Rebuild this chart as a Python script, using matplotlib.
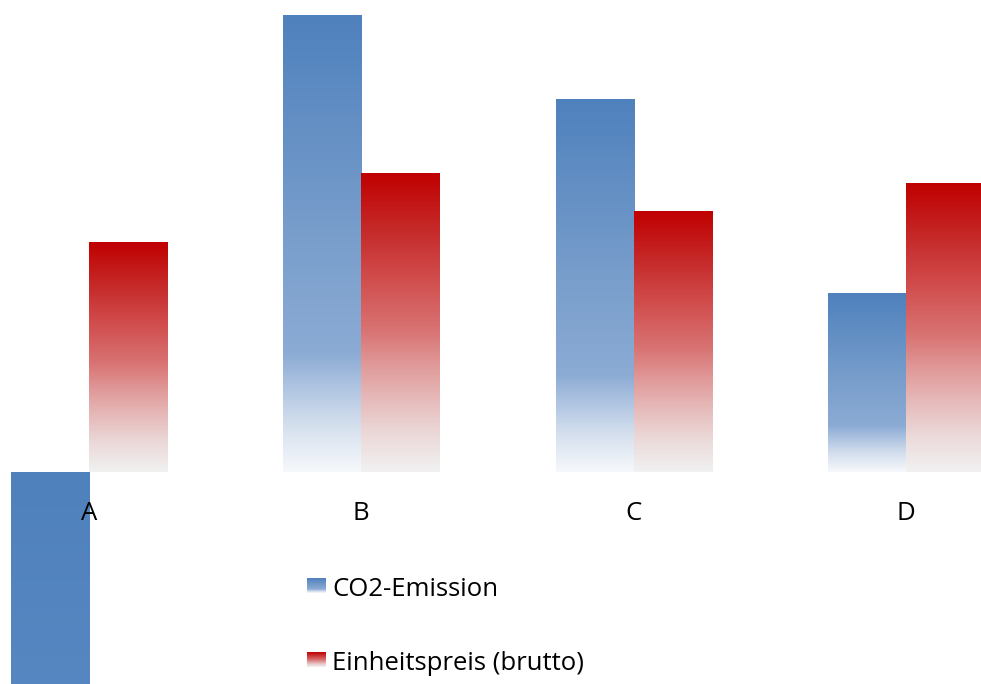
import numpy as np
import matplotlib.pyplot as plt
from matplotlib.colors import LinearSegmentedColormap

categories = ["A", "B", "C", "D"]
co2 = [-25.0, 45.7, 37.3, 17.9]
preis = [23.0, 29.9, 26.1, 28.9]
series_names = ["CO2-Emission", "Einheitspreis (brutto)"]

plt.rcParams['font.family'] = ['Open Sans', 'DejaVu Sans']

# Farbverlaeufe von oben (0) nach unten (1)
blue_cmap = LinearSegmentedColormap.from_list("blue", [
    (0.0, "#4F81BD"), (0.5, "#7A9FCC"), (0.74, "#8BABD4"),
    (0.8, "#A8BFDF"), (0.9, "#D5E0EE"), (1.0, "#F6F8FB")])
blue_neg_cmap = LinearSegmentedColormap.from_list("blueneg", ["#4F81BD", "#5888C2"])
red_cmap = LinearSegmentedColormap.from_list("red", [
    (0.0, "#C00000"), (0.2, "#C62C2C"), (0.33, "#D04848"), (0.53, "#D97474"),
    (0.64, "#E09898"), (0.75, "#E6B8B8"), (0.87, "#EBD8D8"), (1.0, "#F1F1F1")])

fig = plt.figure(figsize=(9.81, 6.84), dpi=100)
ax = fig.add_axes([0, 0, 1, 1])
ax.axis("off")

def gradient_fill(ax, rect, cmap, zorder=2):
    x0, y0 = rect.get_x(), rect.get_y()
    w, h = rect.get_width(), rect.get_height()
    grad = np.linspace(0, 1, 256).reshape(-1, 1)
    top, bottom = max(y0, y0 + h), min(y0, y0 + h)
    ax.imshow(grad, cmap=cmap, aspect="auto", origin="upper",
              extent=[x0, x0 + w, bottom, top], interpolation="bilinear",
              zorder=zorder)

x = np.arange(len(categories))
w = 0.2865
bars1 = ax.bar(x - w / 2, co2, w, color="none")
bars2 = ax.bar(x + w / 2, preis, w, color="none")
for b, v in zip(bars1, co2):
    gradient_fill(ax, b, blue_cmap if v >= 0 else blue_neg_cmap)
for b in bars2:
    gradient_fill(ax, b, red_cmap)

for xi, c in zip(x, categories):
    ax.text(xi, -4.2, c, ha="center", va="center", fontsize=18.5, color="black", zorder=5)

# Legende
leg_x0 = (307 - 89) / 272.3
leg_w = 19 / 272.3
for i, (name, cmap) in enumerate(zip(series_names, [blue_cmap, red_cmap])):
    yc = -(586 - 472) / 10 - i * 7.4
    grad = np.linspace(0, 1, 64).reshape(-1, 1)
    ax.imshow(grad, cmap=cmap, aspect="auto", origin="upper",
              extent=[leg_x0, leg_x0 + leg_w, yc - 0.75, yc + 0.75], zorder=5)
    ax.text(leg_x0 + 25 / 272.3, yc - 0.3, name, ha="left", va="center", fontsize=18.5,
            color="black", zorder=5)

ax.set_xlim(-0.327, 3.276)
ax.set_ylim(-21.2, 47.2)
fig.savefig("out.png", dpi=100)
